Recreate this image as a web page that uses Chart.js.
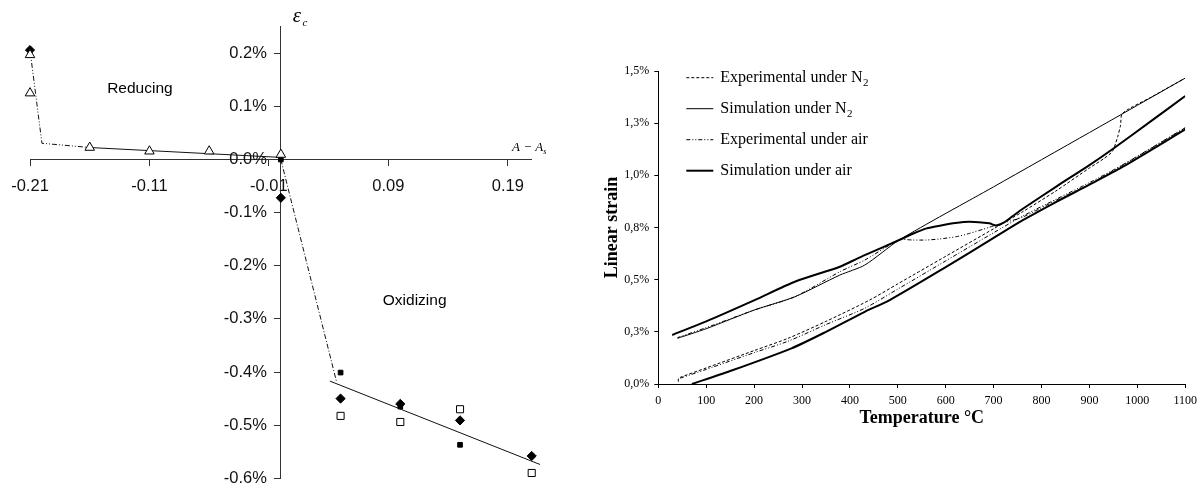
<!DOCTYPE html>
<html>
<head>
<meta charset="utf-8">
<script src="https://cdn.jsdelivr.net/npm/chart.js@4.4.1/dist/chart.umd.min.js"></script>
<style>
    body { margin: 0; background: #fff; overflow: hidden; }
    #wrap { position: relative; width: 1203px; height: 486px; overflow: hidden; }
    canvas { position: absolute; top: 0; }
    #leftChart { left: -10px; }
    #rightChart { left: 590px; }
</style>
</head>
<body>
<div id="wrap">
    <canvas id="leftChart" width="570" height="486"></canvas>
    <canvas id="rightChart" width="613" height="486"></canvas>
</div>
<script>
// ---- 왼쪽 그래프: A - As 대 εc (%)
const leftXTicks = [-0.21, -0.11, -0.01, 0.09, 0.19];
const leftYTicks = [0.2, 0.1, 0, -0.1, -0.2, -0.3, -0.4, -0.5, -0.6];

const openTriX = [-0.21, -0.21, -0.16, -0.11, -0.06, 0];
const openTriY = [0.197, 0.125, 0.0226, 0.0156, 0.0156, 0.0094];
const diamondX = [-0.21, 0, 0.05, 0.10, 0.15, 0.21];
const diamondY = [0.206, -0.072, -0.45, -0.46, -0.491, -0.558];
const smallSquareX = [0, 0.05, 0.10, 0.15];
const smallSquareY = [0, -0.401, -0.465, -0.537];
const openSquareX = [0.05, 0.10, 0.15, 0.21];
const openSquareY = [-0.4825, -0.494, -0.47, -0.59];

const reduceDashX = [-0.21, -0.20, -0.16];
const reduceDashY = [0.206, 0.0306, 0.0226];
const reduceFitX = [-0.16, 0];
const reduceFitY = [0.0226, 0.004];
const oxDashX = [0, 0.0467];
const oxDashY = [0, -0.419];
const oxFitX = [0.041, 0.217];
const oxFitY = [-0.417, -0.574];

// ---- 오른쪽 그래프: 온도 대 선형 변형률 (%)
const tempTicks = [0, 100, 200, 300, 400, 500, 600, 700, 800, 900, 1000, 1100];
const strainTicks = [0, 0.25, 0.5, 0.75, 1.0, 1.25, 1.5];
const legendLabels = ['Experimental under N', 'Simulation under N', 'Experimental under air', 'Simulation under air'];
const legendSubs = ['2', '2', '', ''];

const expN2T = [42, 42, 46, 100, 200, 271, 350, 441, 500, 600, 700, 761, 830, 900, 930, 948, 959, 965, 969, 1030, 1100];
const expN2S = [0.011, 0.026, 0.032, 0.077, 0.16, 0.219, 0.30, 0.402, 0.48, 0.612, 0.744, 0.826, 0.925, 1.035, 1.08, 1.115, 1.185, 1.24, 1.297, 1.376, 1.466];

const simN2T = [40, 100, 201, 285, 379, 431, 503, 700, 900, 1100];
const simN2S = [0.219, 0.265, 0.355, 0.418, 0.522, 0.57, 0.69, 0.945, 1.205, 1.466];

const expAirHeatT = [46, 100, 200, 271, 350, 431, 500, 600, 700, 761, 830, 900, 969, 1100];
const expAirHeatS = [0.028, 0.07, 0.15, 0.205, 0.285, 0.363, 0.455, 0.59, 0.725, 0.805, 0.885, 0.965, 1.05, 1.228];
const expAirCoolT = [1100, 1000, 900, 830, 761, 733, 705, 691, 650, 622, 587, 560, 531, 503, 431, 379, 285, 201, 100, 40];
const expAirCoolS = [1.228, 1.09, 0.958, 0.88, 0.80, 0.78, 0.762, 0.751, 0.722, 0.706, 0.695, 0.69, 0.69, 0.69, 0.594, 0.538, 0.418, 0.355, 0.27, 0.222];

const simAirHeatT = [70, 150, 278, 350, 431, 483, 600, 700, 761, 830, 900, 969, 1100];
const simAirHeatS = [0, 0.062, 0.171, 0.25, 0.346, 0.402, 0.56, 0.70, 0.785, 0.872, 0.955, 1.04, 1.22];
const simAirCoolT = [1100, 1030, 948, 900, 830, 761, 740, 720, 705, 691, 650, 620, 590, 560, 531, 503, 431, 414, 379, 285, 201, 100, 29];
const simAirCoolS = [1.38, 1.262, 1.125, 1.049, 0.945, 0.84, 0.805, 0.772, 0.76, 0.77, 0.778, 0.772, 0.76, 0.746, 0.72, 0.69, 0.618, 0.60, 0.562, 0.49, 0.402, 0.30, 0.235];

const SANS = '"Liberation Sans", Arial, sans-serif';
const SERIF = '"Liberation Serif", "Times New Roman", serif';
const axisColor = '#333';

const zip = (xs, ys) => xs.map((x, i) => ({ x: x, y: ys[i] }));

function markerSet(xs, ys, style, radius, fill) {
    return { data: zip(xs, ys), showLine: false, pointStyle: style, pointRadius: radius,
        backgroundColor: fill, borderColor: '#000', borderWidth: 1, clip: false };
}
function lineSet(xs, ys, dash, width) {
    return { data: zip(xs, ys), showLine: true, pointRadius: 0, borderColor: '#111',
        borderWidth: width, borderDash: dash, clip: false };
}

// 왼쪽 그래프의 글자 (y축 눈금 글자, 영역 이름, 축 기호)
// 중앙 교차 축에서는 y 눈금 글자가 축에 붙어버려서 직접 그림
const leftLabels = {
    id: 'leftLabels',
    afterDatasetsDraw(chart) {
        const { ctx, scales: { x, y } } = chart;
        const x0 = x.getPixelForValue(0);
        ctx.save();
        ctx.fillStyle = '#111';
        ctx.textBaseline = 'middle';
        ctx.textAlign = 'right';
        ctx.font = '16.5px ' + SANS;
        y.ticks.forEach(t => {
            ctx.fillText(t.value.toFixed(1) + '%', x0 - 14, y.getPixelForValue(t.value));
        });

        ctx.fillStyle = '#000';
        ctx.textAlign = 'center';
        ctx.font = '15.5px ' + SANS;
        ctx.fillText('Reducing', x.getPixelForValue(-0.118), y.getPixelForValue(0.133));
        ctx.fillText('Oxidizing', x.getPixelForValue(0.112), y.getPixelForValue(-0.265));

        const ex = x.getPixelForValue(0.0135), ey = y.getPixelForValue(0.27);
        ctx.font = 'italic 21px ' + SERIF;
        ctx.fillText('\u03B5', ex, ey);
        ctx.font = 'italic 11px ' + SERIF;
        ctx.fillText('c', ex + 8, ey + 7);

        ctx.textAlign = 'left';
        ctx.font = 'italic 13px ' + SERIF;
        const ax = x.getPixelForValue(0.1935), ay = y.getPixelForValue(0.022);
        ctx.fillText('A \u2212 A', ax, ay);
        const w = ctx.measureText('A \u2212 A').width;
        ctx.font = 'italic 8px ' + SERIF;
        ctx.fillText('s', ax + w, ay + 4);
        ctx.restore();
    }
};

new Chart(document.getElementById('leftChart'), {
    type: 'scatter',
    data: {
        datasets: [
            markerSet(openTriX, openTriY, 'triangle', 5.5, '#fff'),
            markerSet(smallSquareX, smallSquareY, 'rect', 3.3, '#000'),
            markerSet(diamondX, diamondY, 'rectRot', 4.6, '#000'),
            markerSet(openSquareX, openSquareY, 'rect', 5, '#fff'),
            lineSet(reduceDashX, reduceDashY, [5, 2, 1, 2, 1, 2], 1),
            lineSet(reduceFitX, reduceFitY, [], 1),
            lineSet(oxDashX, oxDashY, [5, 2, 1, 2], 1),
            lineSet(oxFitX, oxFitY, [], 1)
        ]
    },
    options: {
        responsive: false,
        animation: false,
        layout: { padding: { left: 40, right: 28.3, top: 26.7, bottom: 7.7 } },
        plugins: { legend: { display: false }, tooltip: { enabled: false } },
        scales: {
            x: {
                type: 'linear', min: -0.21, max: 0.21, position: { y: 0 },
                afterBuildTicks: s => { s.ticks = leftXTicks.map(v => ({ value: v })); },
                grid: { drawOnChartArea: false, tickLength: 6, color: axisColor },
                border: { color: axisColor, width: 1 },
                ticks: { callback: v => v.toFixed(2), color: '#111', font: { family: SANS, size: 16.5 }, padding: 11, maxRotation: 0 }
            },
            y: {
                type: 'linear', min: -0.6, max: 0.25, position: { x: 0 },
                afterBuildTicks: s => { s.ticks = leftYTicks.map(v => ({ value: v })); },
                grid: { drawOnChartArea: false, tickLength: 6, color: axisColor },
                border: { color: axisColor, width: 1 },
                ticks: { display: false }
            }
        }
    },
    plugins: [leftLabels]
});

// 오른쪽 그래프 범례 (아래첨자 때문에 직접 그림)
const legendStyles = [
    { dash: [3, 2], width: 1 },
    { dash: [], width: 1 },
    { dash: [4, 2, 1, 2, 1, 2], width: 1 },
    { dash: [], width: 2 }
];

const strainLegend = {
    id: 'strainLegend',
    afterDraw(chart) {
        const { ctx, chartArea } = chart;
        ctx.save();
        legendLabels.forEach((label, i) => {
            const x = chartArea.left + 28;
            const y = chartArea.top + 6.7 + i * 31;
            ctx.beginPath();
            ctx.setLineDash(legendStyles[i].dash);
            ctx.lineWidth = legendStyles[i].width;
            ctx.strokeStyle = '#000';
            ctx.moveTo(x, y);
            ctx.lineTo(x + 27, y);
            ctx.stroke();
            ctx.setLineDash([]);
            ctx.fillStyle = '#000';
            ctx.textBaseline = 'middle';
            ctx.textAlign = 'left';
            ctx.font = '16px ' + SERIF;
            ctx.fillText(label, x + 34, y);
            if (legendSubs[i]) {
                const w = ctx.measureText(label).width;
                ctx.font = '11px ' + SERIF;
                ctx.fillText(legendSubs[i], x + 34 + w + 0.5, y + 5);
            }
        });
        ctx.restore();
    }
};

function curve(ts, ss, i) {
    return { data: zip(ts, ss), showLine: true, pointRadius: 0, borderColor: '#000',
        borderWidth: legendStyles[i].width, borderDash: legendStyles[i].dash, tension: 0.25 };
}

new Chart(document.getElementById('rightChart'), {
    type: 'scatter',
    data: {
        datasets: [
            curve(expN2T, expN2S, 0),
            curve(simN2T, simN2S, 1),
            curve(expAirHeatT, expAirHeatS, 2),
            curve(expAirCoolT, expAirCoolS, 2),
            curve(simAirHeatT, simAirHeatS, 3),
            curve(simAirCoolT, simAirCoolS, 3)
        ]
    },
    options: {
        responsive: false,
        animation: false,
        layout: { padding: { left: 0, right: 17, top: 71, bottom: 0 } },
        plugins: { legend: { display: false }, tooltip: { enabled: false } },
        scales: {
            x: {
                type: 'linear', min: 0, max: 1100,
                afterBuildTicks: s => { s.ticks = tempTicks.map(v => ({ value: v })); },
                afterFit: s => { s.height = 102; },
                grid: { drawOnChartArea: false, tickLength: 4, color: '#000' },
                border: { color: '#000', width: 1 },
                ticks: { callback: v => String(v), color: '#000', font: { family: SERIF, size: 12 }, padding: 6, maxRotation: 0 },
                title: { display: true, text: 'Temperature °C', color: '#000',
                    font: { family: SERIF, size: 18, weight: 'bold' }, padding: { top: 0, bottom: 57 } }
            },
            y: {
                type: 'linear', min: 0, max: 1.5,
                afterBuildTicks: s => { s.ticks = strainTicks.map(v => ({ value: v })); },
                afterFit: s => { s.width = 68.3; },
                grid: { drawOnChartArea: false, tickLength: 4, color: '#000' },
                border: { color: '#000', width: 1 },
                ticks: { callback: v => v.toFixed(1).replace('.', ',') + '%', color: '#000',
                    font: { family: SERIF, size: 12 }, padding: 5 },
                title: { display: true, text: 'Linear strain', color: '#000',
                    font: { family: SERIF, size: 18, weight: 'bold' }, padding: { top: 12, bottom: 0 } }
            }
        }
    },
    plugins: [strainLegend]
});
</script>
</body>
</html>
